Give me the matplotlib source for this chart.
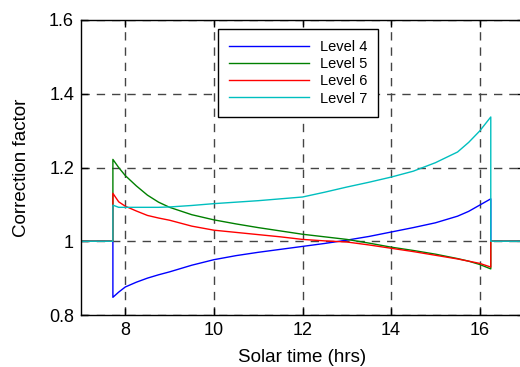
# Correction factor over the day for four levels
import numpy as np
import matplotlib.pyplot as plt

plt.rcParams['font.family'] = ['Liberation Sans', 'DejaVu Sans']

# solar time samples (hrs) between sunrise and sunset cut-offs
hours = [7.72, 7.85, 8.0, 8.25, 8.5, 8.75, 9.0, 9.5, 10.0, 10.5, 11.0, 11.5,
         12.0, 12.5, 13.0, 13.5, 14.0, 14.5, 15.0, 15.5, 15.75, 16.0, 16.25]

level4 = [0.848, 0.862, 0.876, 0.889, 0.900, 0.909, 0.917, 0.935, 0.950, 0.961, 0.970, 0.978,
          0.986, 0.994, 1.003, 1.013, 1.025, 1.037, 1.050, 1.068, 1.081, 1.098, 1.115]
level5 = [1.222, 1.200, 1.178, 1.150, 1.125, 1.106, 1.092, 1.072, 1.058, 1.047, 1.037, 1.028,
          1.019, 1.012, 1.005, 0.995, 0.984, 0.975, 0.965, 0.953, 0.946, 0.937, 0.925]
level6 = [1.130, 1.107, 1.095, 1.082, 1.070, 1.063, 1.057, 1.041, 1.030, 1.024, 1.018, 1.012,
          1.005, 1.001, 0.998, 0.990, 0.981, 0.972, 0.962, 0.952, 0.946, 0.940, 0.930]
level7 = [1.098, 1.092, 1.092, 1.092, 1.092, 1.092, 1.093, 1.097, 1.102, 1.106, 1.110, 1.115,
          1.120, 1.133, 1.147, 1.160, 1.174, 1.190, 1.213, 1.242, 1.268, 1.299, 1.337]

labels = ['Level 4', 'Level 5', 'Level 6', 'Level 7']
colors = ['#0000ff', '#008000', '#ff0000', '#00bfbf']

# outside the daylight window the factor is 1
t_start, t_end = 7.0, 17.0
base = 1.0

fig = plt.figure(figsize=(5.2, 3.67), dpi=100)
ax = fig.add_axes([81 / 520, 1 - 315 / 367, 443 / 520, 295 / 367])

for vals, lab, col in zip([level4, level5, level6, level7], labels, colors):
    ts = [t_start, hours[0]] + hours + [hours[-1], t_end]
    xs = [base, base] + vals + [base, base]
    ax.plot(ts, xs, color=col, linewidth=1, label=lab)

ax.set_xlim(7, 17)
ax.set_ylim(0.8, 1.6)
ax.set_xticks([8, 10, 12, 14, 16])
ax.set_yticks([0.8, 1.0, 1.2, 1.4, 1.6])
ax.set_yticklabels(['0.8', '1', '1.2', '1.4', '1.6'])
ax.tick_params(direction='in', length=5, top=True, right=True, labelsize=13,
               width=1, pad=5)
ax.grid(True, color='#444444', linestyle=(0, (6, 5)), linewidth=1)
for s in ax.spines.values():
    s.set_linewidth(1)

ax.set_xlabel('Solar time (hrs)', fontsize=13.5, labelpad=7)
ax.set_ylabel('Correction factor', fontsize=13.5, labelpad=14)

leg = ax.legend(loc='upper left', bbox_to_anchor=(218 / 520, 1 - 29 / 367),
                bbox_transform=fig.transFigure, fontsize=10.5, fancybox=False,
                framealpha=1, edgecolor='black', handlelength=5.5,
                handletextpad=0.75, labelspacing=0.22, borderpad=0.75, borderaxespad=0)
leg.get_frame().set_linewidth(1)

plt.savefig('out.png', dpi=100)
